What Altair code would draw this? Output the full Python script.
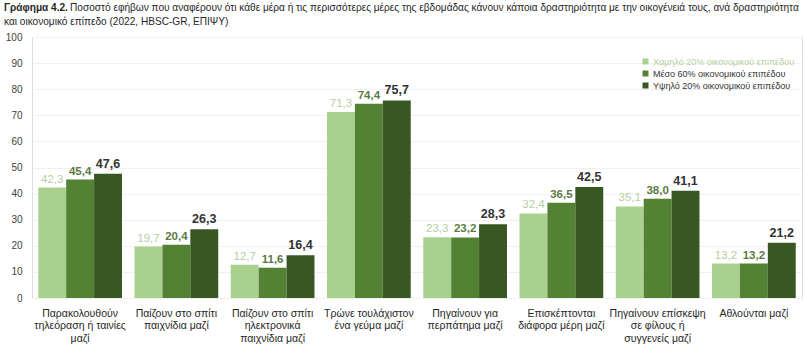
import altair as alt
import pandas as pd

categories = [
    "Παρακολουθούν τηλεόραση ή ταινίες μαζί",
    "Παίζουν στο σπίτι παιχνίδια μαζί",
    "Παίζουν στο σπίτι ηλεκτρονικά παιχνίδια μαζί",
    "Τρώνε τουλάχιστον ένα γεύμα μαζί",
    "Πηγαίνουν για περπάτημα μαζί",
    "Επισκέπτονται διάφορα μέρη μαζί",
    "Πηγαίνουν επίσκεψη σε φίλους ή συγγενείς μαζί",
    "Αθλούνται μαζί",
]
label_lines = [
    ["Παρακολουθούν", "τηλεόραση ή ταινίες", "μαζί"],
    ["Παίζουν στο σπίτι", "παιχνίδια μαζί"],
    ["Παίζουν στο σπίτι", "ηλεκτρονικά", "παιχνίδια μαζί"],
    ["Τρώνε τουλάχιστον", "ένα γεύμα μαζί"],
    ["Πηγαίνουν για", "περπάτημα μαζί"],
    ["Επισκέπτονται", "διάφορα μέρη μαζί"],
    ["Πηγαίνουν επίσκεψη", "σε φίλους ή", "συγγενείς μαζί"],
    ["Αθλούνται μαζί"],
]
series = [
    "Χαμηλό 20% οικονομικού επιπέδου",
    "Μέσο 60% οικονομικού επιπέδου",
    "Υψηλό 20% οικονομικού επιπέδου",
]
low = [42.3, 19.7, 12.7, 71.3, 23.3, 32.4, 35.1, 13.2]
mid = [45.4, 20.4, 11.6, 74.4, 23.2, 36.5, 38.0, 13.2]
high = [47.6, 26.3, 16.4, 75.7, 28.3, 42.5, 41.1, 21.2]
y_ticks = list(range(0, 101, 10))

bar_colors = ["#a9d18e", "#548235", "#385723"]
text_colors = ["#b4cfa0", "#5b7a45", "#333333"]
text_sizes = [11.5, 11.5, 12.5]
text_weights = ["normal", "bold", "bold"]

rows = []
for i, c in enumerate(categories):
    for s, vals in zip(series, [low, mid, high]):
        rows.append({"cat": c, "series": s, "value": vals[i],
                     "label": f"{vals[i]:.1f}".replace(".", ",")})
df = pd.DataFrame(rows)

label_expr = "{" + ",".join(
    '"' + c + '": [' + ",".join('"' + p + '"' for p in l) + "]"
    for c, l in zip(categories, label_lines)) + "}[datum.value]"

FONT = "Liberation Sans"

x_enc = alt.X("cat:N", sort=categories,
              scale=alt.Scale(paddingInner=0.13, paddingOuter=0.065),
              axis=alt.Axis(title=None, labelAngle=0, labelExpr=label_expr,
                            labelFont=FONT, labelFontSize=10.5, labelColor="#262626",
                            labelLineHeight=12.5, labelPadding=10, labelBaseline="top",
                            ticks=False, domain=False, labelLimit=200))
xo_enc = alt.XOffset("series:N", sort=series, scale=alt.Scale(domain=series, paddingInner=0, paddingOuter=0))
y_enc = alt.Y("value:Q", scale=alt.Scale(domain=[0, 100]),
              axis=alt.Axis(title=None, values=y_ticks, labelFont=FONT,
                            labelFontSize=10, labelColor="#404040", labelPadding=10,
                            ticks=False, domain=False, gridColor="#f0f0f0", gridWidth=1))

bars = alt.Chart(df).mark_bar().encode(
    x=x_enc, xOffset=xo_enc, y=y_enc,
    color=alt.Color("series:N", sort=series,
                    scale=alt.Scale(domain=series, range=bar_colors),
                    legend=alt.Legend(title=None, orient="none", legendX=609, legendY=20,
                                      symbolType="square", symbolSize=36, labelFont=FONT,
                                      labelFontSize=9, rowPadding=2, symbolStrokeWidth=0,
                                      labelOffset=3,
                                      labelColor=alt.ExprRef(
                                          f"datum.value == '{series[0]}' ? '#b4cfa0' : '#333333'"))),
)

layers = [bars]
for s, tc, ts, tw in zip(series, text_colors, text_sizes, text_weights):
    layers.append(
        alt.Chart(df).transform_filter(alt.datum.series == s).mark_text(
            baseline="bottom", dy=-3, font=FONT, fontSize=ts, fontWeight=tw, color=tc
        ).encode(x=x_enc, xOffset=xo_enc, y=y_enc, text="label:N")
    )

title_parts = [
    ("Γράφημα 4.2.", "bold", 4, -29),
    ("Ποσοστό εφήβων που αναφέρουν ότι κάθε μέρα ή τις περισσότερες μέρες της εβδομάδας κάνουν κάποια δραστηριότητα με την οικογένειά τους, ανά δραστηριότητα", "normal", 70, -29),
    ("και οικονομικό επίπεδο (2022, HBSC-GR, ΕΠΙΨΥ)", "normal", 4, -15),
]
tdf = pd.DataFrame({"t": [0]})
for txt, w, px, py in title_parts:
    layers.append(
        alt.Chart(tdf).mark_text(align="left", baseline="middle", font=FONT,
                                 fontSize=10.1, fontWeight=w, color="#262626", text=txt)
        .encode(x=alt.value(px - 32), y=alt.value(py))
    )

chart = alt.layer(*layers).properties(
    width=770, height=261,
    padding={"left": 32, "top": 37, "right": 10, "bottom": 56},
    autosize=alt.AutoSizeParams(type="none"),
).configure_view(stroke=None).configure(background="white")

chart.save("out.html", embed_options={"renderer": "svg", "actions": False})
